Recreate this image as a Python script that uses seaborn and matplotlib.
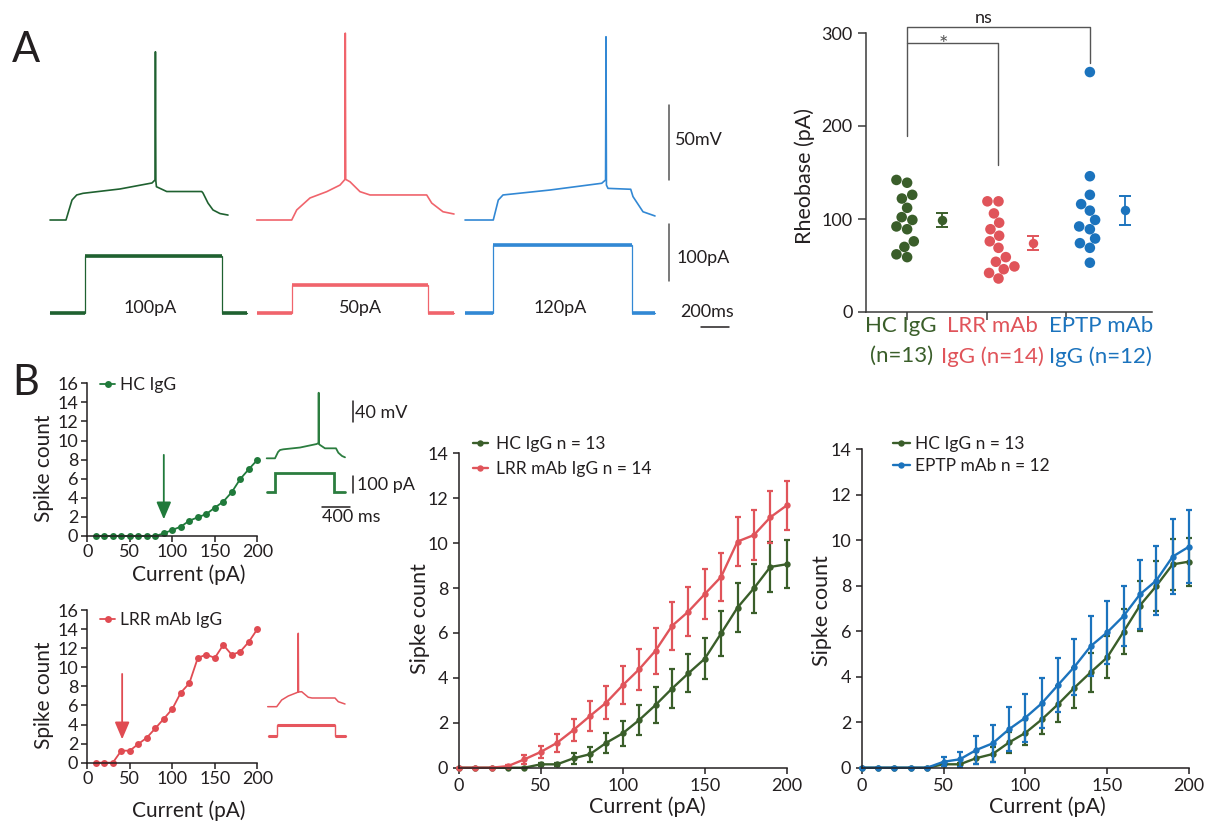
import matplotlib
matplotlib.use("Agg")
import matplotlib.pyplot as plt
import numpy as np
import pandas as pd
import seaborn as sns

# ----------------------------- data -----------------------------
groups = ["HC IgG", "LRR mAb IgG", "EPTP mAb IgG"]
group_tick_labels = ["HC IgG\n(n=13)", "LRR mAb\nIgG (n=14)", "EPTP mAb\nIgG (n=12)"]
rheo_hc = [142, 139, 126, 122, 112, 102, 99, 92, 89, 76, 70, 62, 59]
rheo_lrr = [119, 119, 106, 96, 89, 82, 76, 69, 59, 54, 49, 46, 42, 36]
rheo_eptp = [258, 146, 126, 116, 109, 99, 92, 89, 79, 74, 69, 53]
rheo_yticks = [0, 100, 200, 300]

ex_current = list(range(10, 201, 10))
ex_hc_spikes = [0, 0, 0, 0, 0, 0, 0, 0, 0.28, 0.63, 0.98, 1.6, 1.96, 2.3, 2.97,
                3.6, 4.6, 5.98, 7.0, 7.97]
ex_lrr_spikes = [0, 0, 0, 1.26, 1.26, 1.96, 2.62, 3.6, 4.6, 5.63, 7.34, 8.32,
                 10.98, 11.33, 10.98, 12.34, 11.3, 11.64, 12.66, 13.99]
ex_labels = ["HC IgG", "LRR mAb IgG"]
ex_arrow_current = [90, 41]
ex_arrow_from = [8.5, 9.3]
ex_arrow_to = [1.75, 2.45]

current_pa = list(range(0, 201, 10))
hc_mean = [0, 0, 0, 0, 0, 0.15, 0.15, 0.42, 0.6, 1.11, 1.53, 2.12, 2.79, 3.52, 4.2,
           4.85, 5.98, 7.13, 7.99, 8.94, 9.06]
hc_sem = [0, 0, 0, 0, 0, 0.06, 0.06, 0.25, 0.33, 0.45, 0.55, 0.65, 0.8, 0.88, 0.85,
          0.92, 1.0, 1.1, 1.08, 1.13, 1.06]
lrr_mean = [0, 0, 0, 0.07, 0.37, 0.7, 1.11, 1.68, 2.3, 2.9, 3.67, 4.38, 5.21, 6.31,
            6.95, 7.73, 8.5, 10.07, 10.36, 11.15, 11.68]
lrr_sem = [0, 0, 0, 0.05, 0.19, 0.28, 0.39, 0.51, 0.65, 0.73, 0.84, 0.92, 1.02, 1.05,
           1.1, 1.1, 1.08, 1.11, 1.11, 1.15, 1.08]
eptp_mean = [0, 0, 0, 0, 0, 0.26, 0.37, 0.78, 1.07, 1.69, 2.2, 2.83, 3.64, 4.44,
             5.35, 5.95, 6.67, 7.62, 8.23, 9.28, 9.72]
eptp_sem = [0, 0, 0, 0, 0, 0.2, 0.34, 0.6, 0.8, 0.97, 1.05, 1.1, 1.2, 1.23, 1.33,
            1.39, 1.34, 1.52, 1.5, 1.66, 1.6]
curve_labels = ["HC IgG n = 13", "LRR mAb IgG n = 14", "EPTP mAb n = 12"]

# Panel A example traces: time (ms) from trace start, potential (mV)
hc_trace_t = [0, 112, 133, 154, 187, 231, 490, 714, 735, 738, 741, 745, 817, 1062,
              1071, 1106, 1141, 1190, 1246]
hc_trace_v = [-70, -70, -63.3, -56.7, -53.3, -52.2, -49.3, -45.3, -43.3, 42.2, -44,
              -47.8, -51, -51, -52, -58.7, -63.3, -65.7, -66.7]
lrr_trace_t = [0, 245, 280, 373, 490, 583, 618, 620, 623, 653, 723, 793, 1190, 1225,
               1304, 1381]
lrr_trace_v = [-70, -70, -63.3, -55.3, -51.1, -46.7, -42.9, 54.6, -42.9, -44.5, -51.1,
               -53.3, -53.3, -58.7, -64.5, -66]
eptp_trace_t = [0, 198, 233, 266, 595, 957, 984, 987, 990, 1001, 1160, 1176, 1246, 1330]
eptp_trace_v = [-70, -70, -56.7, -53.3, -50, -45.5, -43.3, 52.2, -46.7, -48.9, -49.5,
                -54.4, -64.5, -67.3]
# current steps: time (ms), current (pA)
hc_step_t = [0, 245, 245, 1202, 1202, 1377]
hc_step_i = [0, 0, 100, 100, 0, 0]
lrr_step_t = [0, 245, 245, 1201, 1201, 1381]
lrr_step_i = [0, 0, 50, 50, 0, 0]
eptp_step_t = [0, 198, 198, 1167, 1167, 1330]
eptp_step_i = [0, 0, 120, 120, 0, 0]
step_labels_a = ["100pA", "50pA", "120pA"]

# Panel B inset traces
hc_inset_t = [0, 117, 160, 188, 234, 470, 705, 730, 733, 736, 752, 822, 977, 1010, 1062, 1104]
hc_inset_v = [-70, -70, -58, -54.2, -52.9, -49.5, -42.8, -40.9, 54.6, -42.8, -44.7, -51,
              -51, -59.4, -65.6, -68.1]
hc_inset_step_t = [0, 117, 117, 949, 949, 1104]
hc_inset_step_i = [0, 0, 110, 110, 0, 0]
lrr_inset_t = [0, 127, 197, 290, 409, 427, 431, 435, 479, 572, 625, 949, 995, 1090]
lrr_inset_v = [-70, -70, -57.3, -49.7, -43.4, -42.1, 69.5, -42.1, -41.5, -52.1, -53.5,
               -53.5, -60.5, -64.9]
lrr_inset_step_t = [0, 127, 127, 949, 949, 1100]
lrr_inset_step_i = [0, 0, 66, 66, 0, 0]

# ----------------------------- style -----------------------------
sns.set_theme(style="ticks")
plt.rcParams["font.family"] = ["Lato", "DejaVu Sans"]
plt.rcParams["axes.facecolor"] = "none"

C_HC, C_LRR, C_EPTP = "#3a5e2a", "#e0545a", "#1b73bd"
C_HC_EX, C_LRR_EX = "#207a3b", "#e04b52"
TR_HC, TR_LRR, TR_EPTP = "#1f6130", "#f0646c", "#3288d4"
INS_HC, INS_LRR = "#2b7d3f", "#e6565e"
INK, GREY = "#231f20", "#555555"

W, H = 1208, 836
fig = plt.figure(figsize=(W / 100, H / 100), dpi=100)
fig.patch.set_facecolor("white")


def add_ax(x0, y0, x1, y1):
    return fig.add_axes([x0 / W, 1 - y1 / H, (x1 - x0) / W, (y1 - y0) / H])


def style_axes(ax, ticklen, pad, labelsize, color=INK):
    sns.despine(ax=ax)
    for s in ("left", "bottom"):
        ax.spines[s].set_color(color)
        ax.spines[s].set_linewidth(1.1)
    ax.tick_params(length=ticklen, width=1.1, color=color, pad=pad,
                   labelsize=labelsize, labelcolor=INK, direction="out")


def draw_step(ax, t, i, off, color, thin=0.9, thick=2.4):
    t = np.asarray(t, float) + off
    ax.plot(t, i, color=color, lw=thin, solid_joinstyle="miter")
    for k in range(len(t) - 1):
        if i[k] == i[k + 1]:
            ax.plot([t[k], t[k + 1]], [i[k], i[k]], color=color, lw=thick,
                    solid_capstyle="butt")


# ----------------------------- Panel A traces -----------------------------
fig.text(12 / W, 1 - 62 / H, "A", fontsize=30, color=INK, va="baseline")

axv = add_ax(40, 20, 760, 232)
axv.set_axis_off()
axv.set_xlim(-70, 4970)
axv.set_ylim(-78, 63.4)
axi = add_ax(40, 222, 760, 335)
axi.set_axis_off()
axi.set_xlim(-70, 4970)
axi.set_ylim(-38, 159.8)

trace_offsets = [0, 1447, 2905]
label_t = [700, 2170, 3570]
traces = [(hc_trace_t, hc_trace_v, hc_step_t, hc_step_i, TR_HC),
          (lrr_trace_t, lrr_trace_v, lrr_step_t, lrr_step_i, TR_LRR),
          (eptp_trace_t, eptp_trace_v, eptp_step_t, eptp_step_i, TR_EPTP)]
for (tt, vv, st, si, col), off, lab, lt in zip(traces, trace_offsets, step_labels_a, label_t):
    axv.plot(np.asarray(tt) + off, vv, color=col, lw=1.2)
    draw_step(axi, st, si, off, col, thin=0.9, thick=2.6)
    axi.text(lt, 9.3, lab, fontsize=13, color=INK, ha="center", va="center")

axv.plot([4330, 4330], [-43.3, 6.7], color=GREY, lw=1.1)
axv.text(4375, -16.6, "50mV", fontsize=13, color=INK, ha="left", va="center")
axi.plot([4330, 4330], [56, 156], color=GREY, lw=1.1)
axi.text(4387, 96, "100pA", fontsize=13, color=INK, ha="left", va="center")
axi.plot([4555, 4755], [-23.4, -23.4], color=INK, lw=1.1, clip_on=False)
axi.text(4602, 2.8, "200ms", fontsize=13, color=INK, ha="center", va="center")

# ----------------------------- Rheobase -----------------------------
rheo_df = pd.DataFrame({
    "group": np.repeat(groups, [len(rheo_hc), len(rheo_lrr), len(rheo_eptp)]),
    "rheobase": rheo_hc + rheo_lrr + rheo_eptp,
})
pal = [C_HC, C_LRR, C_EPTP]
axr = add_ax(866, 33, 1152, 312)
sns.swarmplot(data=rheo_df, x="group", y="rheobase", hue="group", order=groups,
              hue_order=groups, palette=pal, size=7.6, linewidth=0, legend=False, ax=axr)
for k, (g, c) in enumerate(zip(groups, pal)):
    vals = rheo_df.loc[rheo_df.group == g, "rheobase"].to_numpy(float)
    m = vals.mean()
    s = vals.std(ddof=1) / np.sqrt(len(vals))
    xm = k + 0.38
    axr.errorbar(xm, m, yerr=s, fmt="o", color=c, ms=6.8, mew=0,
                 elinewidth=1.3, capsize=0, zorder=5)
    # caps of the SEM bar
    axr.plot([xm - 0.066, xm + 0.066], [m - s, m - s], color=c, lw=1.4,
             solid_capstyle="butt", zorder=5)
    axr.plot([xm - 0.066, xm + 0.066], [m + s, m + s], color=c, lw=1.4,
             solid_capstyle="butt", zorder=5)
axr.set_xlim(-0.45, 2.68)
axr.set_ylim(0, 300)
axr.set_yticks(rheo_yticks)
axr.set_xticks([0, 0.874, 1.738])
axr.set_xticklabels(["", "", ""])
style_axes(axr, 6, 3.6, 13, color="#3a3a3a")
axr.set_xlabel("")
axr.set_ylabel("Rheobase (pA)", fontsize=15.5, color=INK)
axr.yaxis.set_label_coords(-0.178, 0.488)
for xpos, lab, c in zip([-0.066, 0.93, 2.12], group_tick_labels, pal):
    axr.text(xpos, -0.014, lab, transform=axr.get_xaxis_transform(), fontsize=16,
             color=c, ha="center", va="top", linespacing=1.65)
axr.plot([0, 0, 2, 2], [189, 306, 306, 268], color=GREY, lw=1, clip_on=False)
axr.plot([0, 1, 1], [289, 289, 158], color=GREY, lw=1, clip_on=False)
axr.text(0.84, 311, "ns", fontsize=13, color=INK, ha="center", va="baseline")
axr.text(0.40, 281, "*", fontsize=16, color=GREY, ha="center", va="baseline")

# ----------------------------- Panel B example cells -----------------------------
fig.text(12 / W, 1 - 395 / H, "B", fontsize=30, color=INK, va="baseline")


def example_panel(y0, y1, spikes, color, label, k, leg_y, xlab_y):
    ax = add_ax(87.3, y0, 257.3, y1)
    sns.lineplot(x=ex_current, y=spikes, color=color, marker="o", markersize=5,
                 markeredgewidth=0, lw=1.3, label=label, ax=ax, clip_on=False)
    ax.set_xlim(0, 200)
    ax.set_ylim(0, 16)
    ax.set_xticks([0, 50, 100, 150, 200])
    ax.set_yticks(range(0, 17, 2))
    style_axes(ax, 4.5, 2, 13)
    ax.tick_params(axis="x", pad=1.5)
    ax.set_xlabel("Current (pA)", fontsize=15, color=INK)
    ax.set_ylabel("Spike count", fontsize=15, color=INK)
    ax.yaxis.set_label_coords(-0.198, 0.443)
    ax.xaxis.set_label_coords(0.594, xlab_y)
    ax.annotate("", xy=(ex_arrow_current[k], ex_arrow_to[k]),
                xytext=(ex_arrow_current[k], ex_arrow_from[k]),
                arrowprops=dict(arrowstyle="-|>,head_length=0.75,head_width=0.32",
                                color=color, lw=1.3, shrinkA=0, shrinkB=0,
                                mutation_scale=14))
    ax.legend(loc="center left", bbox_to_anchor=(0.075, leg_y), frameon=False,
              fontsize=12.5, handlelength=0.86, handletextpad=0.3, borderpad=0,
              borderaxespad=0, labelcolor=INK)
    return ax


example_panel(383.3, 536, ex_hc_spikes, C_HC_EX, ex_labels[0], 0, 0.99, -0.183)
example_panel(610, 762.7, ex_lrr_spikes, C_LRR_EX, ex_labels[1], 1, 0.935, -0.249)

# inset traces (top: HC, bottom: LRR)
iv1 = add_ax(260, 385, 420, 465)
iv1.set_axis_off()
iv1.set_xlim(-94.5, 2161.5)
iv1.set_ylim(-82.7, 69.3)
ii1 = add_ax(260, 465, 420, 525)
ii1.set_axis_off()
ii1.set_xlim(-94.5, 2161.5)
ii1.set_ylim(-199.8, 160.2)
iv1.plot(hc_inset_t, hc_inset_v, color=INS_HC, lw=1.3)
ii1.plot(hc_inset_step_t, hc_inset_step_i, color=INS_HC, lw=2.0, solid_joinstyle="miter")
iv1.plot([1213, 1213], [-0.5, 39.5], color=INK, lw=1.1)
iv1.text(1245, 15.5, "40 mV", fontsize=13, color=INK, ha="left", va="center")
ii1.plot([1221, 1221], [-6, 94], color=INK, lw=1.1)
ii1.text(1269, 40, "100 pA", fontsize=13, color=INK, ha="left", va="center")
ii1.plot([776, 1176], [-93.6, -93.6], color=INK, lw=1.1)
ii1.text(776, -150, "400 ms", fontsize=13, color=INK, ha="left", va="center")

iv2 = add_ax(260, 625, 420, 715)
iv2.set_axis_off()
iv2.set_xlim(-108.6, 2147.4)
iv2.set_ylim(-85.8, 85.2)
ii2 = add_ax(260, 715, 420, 745)
ii2.set_axis_off()
ii2.set_xlim(-108.6, 2147.4)
ii2.set_ylim(-54, 126)
iv2.plot(lrr_inset_t, lrr_inset_v, color=INS_LRR, lw=1.1)
draw_step(ii2, lrr_inset_step_t, lrr_inset_step_i, 0, INS_LRR, thin=1.0, thick=2.2)

# ----------------------------- Mean F-I curves -----------------------------


def curve_panel(x0, y0, x1, series, leg_xy, labelspacing, handlelength, textpad,
                ylab_xy, xlab_xy):
    ax = add_ax(x0, y0, x1, 767.7)
    for mean, sem, color, label in series:
        ax.errorbar(current_pa, mean, yerr=sem, fmt="none", ecolor=color,
                    elinewidth=1.6, capsize=2.3, capthick=1.6, clip_on=False)
        sns.lineplot(x=current_pa, y=mean, color=color, marker="o", markersize=4.6,
                     markeredgewidth=0, lw=1.7, label=label, ax=ax, clip_on=False)
    ax.set_xlim(0, 200)
    ax.set_ylim(0, 14)
    ax.set_xticks([0, 50, 100, 150, 200])
    ax.set_yticks(range(0, 15, 2))
    style_axes(ax, 4.5, 3, 13)
    ax.set_xlabel("Current (pA)", fontsize=15.5, color=INK)
    ax.set_ylabel("Sipke count", fontsize=15.5, color=INK)
    ax.yaxis.set_label_coords(*ylab_xy)
    ax.xaxis.set_label_coords(*xlab_xy)
    ax.legend(loc="upper left", bbox_to_anchor=leg_xy, frameon=False, fontsize=12.5,
              handlelength=handlelength, handletextpad=textpad, borderpad=0,
              borderaxespad=0, labelspacing=labelspacing, labelcolor=INK)
    return ax


curve_panel(458.7, 453.3, 786.7,
            [(hc_mean, hc_sem, C_HC, curve_labels[0]),
             (lrr_mean, lrr_sem, C_LRR, curve_labels[1])],
            (0.0436, 1.055), 0.5, 0.86, 0.46, (-0.0875, 0.473), (0.576, -0.09))
curve_panel(861.7, 449.3, 1189,
            [(hc_mean, hc_sem, C_HC, curve_labels[0]),
             (eptp_mean, eptp_sem, C_EPTP, curve_labels[2])],
            (0.0947, 1.042), 0.35, 1.0, 0.3, (-0.091, 0.495), (0.566, -0.089))

fig.savefig("out.png", dpi=100, facecolor="white")
